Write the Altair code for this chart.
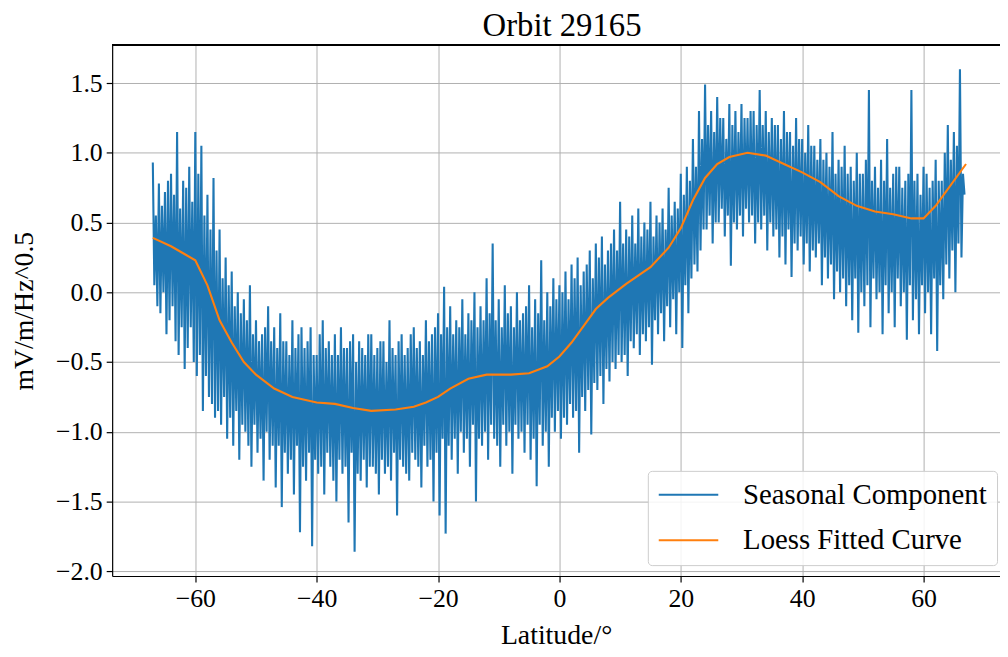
import altair as alt
import pandas as pd

# Seasonal component: upper swings sampled at -67.0 + 0.5*i, lower swings at -66.75 + 0.5*i
upper_vals = [
    0.93, 0.55, 0.78, 0.62, 0.72, 0.80, 0.85, 0.70, 1.15, 0.60, 0.80, 0.75, 0.90, 0.65, 1.15, 0.85, 1.05, 0.55, 0.70, 0.45,
    0.82, 0.30, 0.45, 0.10, 0.25, 0.05, 0.15, -0.10, 0.00, -0.15, -0.05, -0.20, 0.05, -0.30, -0.20, -0.35, -0.30, -0.25, -0.10, -0.35,
    -0.25, -0.40, -0.15, -0.35, -0.35, -0.45, -0.20, -0.40, -0.30, -0.25, -0.40, -0.35, -0.25, -0.45, -0.45, -0.30, -0.20, -0.40, -0.35, -0.45,
    -0.30, -0.45, -0.25, -0.40, -0.40, -0.35, -0.30, -0.50, -0.35, -0.40, -0.45, -0.30, -0.30, -0.45, -0.40, -0.35, -0.35, -0.50, -0.20, -0.40,
    -0.45, -0.35, -0.30, -0.45, -0.40, -0.30, -0.25, -0.40, -0.35, -0.45, -0.20, -0.35, -0.30, -0.25, -0.15, -0.30, 0.04, -0.25, -0.10, -0.30,
    -0.20, -0.25, -0.05, -0.30, -0.15, -0.20, 0.00, -0.25, -0.10, -0.20, 0.10, -0.15, 0.35, -0.20, -0.05, -0.25, 0.05, -0.15, -0.10, -0.25,
    0.00, -0.20, -0.15, -0.10, 0.05, -0.25, -0.05, -0.15, 0.23, -0.20, 0.00, -0.10, 0.10, -0.05, 0.05, 0.00, 0.15, -0.05, 0.20, 0.10,
    0.25, 0.05, 0.15, 0.20, 0.30, 0.10, 0.35, 0.25, 0.40, 0.20, 0.30, 0.35, 0.45, 0.30, 0.65, 0.35, 0.45, 0.40, 0.55, 0.35,
    0.60, 0.40, 0.50, 0.45, 0.65, 0.40, 0.55, 0.50, 0.60, 0.45, 0.75, 0.55, 0.65, 0.60, 0.85, 0.70, 0.90, 0.80, 1.10, 0.90,
    1.30, 1.10, 1.49, 1.20, 1.30, 1.15, 1.40, 1.25, 1.25, 1.10, 1.35, 1.20, 1.30, 1.15, 1.35, 1.25, 1.25, 1.30, 1.30, 1.20,
    1.45, 1.20, 1.30, 1.15, 1.25, 1.20, 1.20, 1.10, 1.30, 1.15, 1.15, 1.05, 1.25, 1.10, 1.10, 1.00, 1.20, 1.05, 1.05, 0.95,
    1.10, 0.95, 1.00, 0.90, 1.15, 0.85, 0.95, 0.90, 1.05, 0.85, 0.90, 0.80, 1.00, 0.85, 0.85, 0.95, 1.45, 0.80, 0.90, 0.75,
    0.95, 0.80, 1.10, 0.75, 0.85, 0.90, 0.90, 0.75, 0.80, 0.85, 1.45, 0.80, 0.85, 0.70, 0.90, 0.85, 0.75, 0.80, 0.95, 0.80,
    0.80, 1.00, 1.20, 0.95, 1.15, 1.05, 1.60, 0.85,
]
lower_vals = [
    0.05, -0.10, -0.15, 0.00, -0.30, -0.20, -0.10, -0.35, -0.45, -0.25, -0.55, -0.40, -0.25, -0.50, -0.60, -0.45, -0.85, -0.60, -0.75, -0.80,
    -0.90, -0.85, -0.95, -0.75, -1.05, -0.90, -1.10, -0.85, -1.20, -0.95, -1.00, -1.10, -1.25, -0.95, -1.15, -1.05, -1.35, -1.00, -1.20, -1.10,
    -1.40, -1.10, -1.54, -1.15, -1.30, -1.20, -1.45, -1.10, -1.72, -1.25, -1.35, -1.15, -1.82, -1.20, -1.30, -1.25, -1.45, -1.15, -1.25, -1.35,
    -1.50, -1.20, -1.30, -1.25, -1.65, -1.15, -1.86, -1.30, -1.35, -1.20, -1.40, -1.25, -1.25, -1.30, -1.45, -1.20, -1.30, -1.25, -1.35, -1.15,
    -1.60, -1.20, -1.25, -1.30, -1.35, -1.15, -1.20, -1.25, -1.40, -1.10, -1.25, -1.20, -1.50, -1.15, -1.60, -1.05, -1.73, -1.10, -1.20, -1.05,
    -1.30, -1.00, -1.15, -1.05, -1.25, -0.95, -1.50, -1.05, -1.10, -1.00, -1.20, -0.95, -1.05, -1.10, -1.25, -0.95, -1.10, -1.00, -1.30, -0.95,
    -1.05, -1.00, -1.15, -0.95, -1.20, -1.05, -1.39, -0.95, -1.10, -1.00, -1.25, -0.90, -1.00, -0.85, -1.05, -0.90, -0.95, -0.80, -0.90, -0.85,
    -1.15, -0.75, -0.85, -0.70, -1.02, -0.65, -0.70, -0.60, -0.80, -0.55, -0.64, -0.50, -0.55, -0.45, -0.50, -0.45, -0.60, -0.35, -0.40, -0.30,
    -0.45, -0.30, -0.35, -0.25, -0.52, -0.20, -0.30, -0.15, -0.35, -0.10, -0.25, -0.05, -0.30, 0.00, -0.40, 0.05, -0.15, 0.10, 0.20, 0.15,
    0.30, 0.45, 0.45, 0.55, 0.35, 0.50, 0.50, 0.60, 0.40, 0.55, 0.19, 0.50, 0.45, 0.55, 0.40, 0.60, 0.50, 0.55, 0.35, 0.50,
    0.45, 0.55, 0.30, 0.50, 0.40, 0.45, 0.25, 0.40, 0.20, 0.45, 0.11, 0.35, 0.30, 0.40, 0.20, 0.35, 0.15, 0.30, 0.25, 0.35,
    0.05, 0.25, 0.10, 0.20, -0.05, 0.15, 0.00, 0.10, -0.10, 0.05, -0.20, 0.10, -0.29, 0.00, -0.10, 0.05, -0.25, 0.10, -0.05, 0.00,
    -0.30, 0.05, -0.15, 0.00, -0.25, 0.10, -0.10, 0.00, -0.34, 0.05, -0.20, -0.05, -0.30, 0.05, -0.15, 0.00, -0.30, 0.10, -0.42, 0.05,
    -0.05, 0.20, 0.10, 0.30, 0.00, 0.35, 0.25, 0.70,
]
upper_lat = [-67.0 + 0.5 * i for i in range(len(upper_vals))]
lower_lat = [-66.75 + 0.5 * i for i in range(len(lower_vals))]

# Loess fitted curve
loess_lat = [-67, -64, -62, -60, -58, -56, -54, -52, -50, -47, -44, -40, -37, -34, -31, -27,
             -24, -22, -20, -18, -15, -12, -8, -5, -2, 0, 2, 4, 6, 8, 11, 15, 18, 20, 22, 24,
             26, 28, 31, 34, 37, 40, 43, 46, 49, 52, 55, 58, 60, 62, 64, 67]
loess_vals = [0.39, 0.33, 0.28, 0.23, 0.05, -0.20, -0.36, -0.50, -0.59, -0.69, -0.75, -0.79,
              -0.80, -0.83, -0.85, -0.84, -0.82, -0.79, -0.75, -0.69, -0.62, -0.59, -0.59,
              -0.58, -0.53, -0.46, -0.36, -0.24, -0.12, -0.04, 0.06, 0.18, 0.32, 0.46, 0.66,
              0.82, 0.92, 0.97, 1.00, 0.98, 0.92, 0.86, 0.79, 0.69, 0.62, 0.58, 0.56, 0.53,
              0.53, 0.62, 0.74, 0.92]

series_names = ["Seasonal Component", "Loess Fitted Curve"]
series_colors = ["#1f77b4", "#ff7f0e"]
x_ticks = [-60, -40, -20, 0, 20, 40, 60]
y_ticks = [-2.0, -1.5, -1.0, -0.5, 0.0, 0.5, 1.0, 1.5]

seasonal = pd.DataFrame({"lat": upper_lat + lower_lat, "val": upper_vals + lower_vals})
seasonal = seasonal.sort_values("lat").reset_index(drop=True)
seasonal["series"] = series_names[0]
loess = pd.DataFrame({"lat": loess_lat, "val": loess_vals, "series": series_names[1]})
df = pd.concat([seasonal, loess], ignore_index=True)

W, H = 895, 535
FONT = "Liberation Serif"

x = alt.X("lat:Q", scale=alt.Scale(domain=[-73.7, 72.6], nice=False, zero=False),
          axis=alt.Axis(values=x_ticks, format="d", title="Latitude/°", grid=True,
                        titlePadding=10))
y = alt.Y("val:Q", scale=alt.Scale(domain=[-2.034, 1.771], nice=False, zero=False),
          axis=alt.Axis(values=y_ticks, format=".1f", title="mV/m/Hz^0.5", grid=True,
                        titlePadding=17))
color = alt.Color("series:N", scale=alt.Scale(domain=series_names, range=series_colors),
                  legend=alt.Legend(orient="none", legendX=540, legendY=429, title=None,
                                    labelFont=FONT, labelFontSize=29, labelColor="black",
                                    symbolType="stroke", symbolSize=3600, symbolStrokeWidth=2,
                                    clipHeight=28, labelOffset=24, labelLimit=500,
                                    padding=10, rowPadding=17,
                                    strokeColor="#cccccc", fillColor="rgba(255,255,255,0.85)",
                                    cornerRadius=4))

lines = alt.Chart(df).mark_line(strokeWidth=2.1).encode(
    x=x, y=y, color=color, order="lat:Q", detail="series:N"
)

top_spine = alt.Chart(df).mark_rule(color="black", strokeWidth=1.2).encode(
    x=alt.value(0), x2=alt.value(W), y=alt.value(0)
)

chart = alt.layer(lines, top_spine).properties(
    width=W, height=H,
    title=alt.Title("Orbit 29165", font=FONT, fontSize=33, fontWeight="normal", color="black",
                    offset=2, dx=6),
    autosize=alt.AutoSizeParams(type="none"),
    padding={"left": 105, "top": 35, "right": 0, "bottom": 76},
).configure_view(stroke=None).configure_axis(
    labelFont=FONT, labelFontSize=26, labelColor="black", titleFont=FONT, titleFontSize=28,
    titleFontWeight="normal", titleColor="black", gridColor="#b0b0b0", gridWidth=1,
    domainColor="black", domainWidth=1.2, tickColor="black", tickSize=6, tickWidth=1.2,
    labelPadding=4
)

chart.save("out.html", embed_options={"renderer": "svg", "actions": False})
